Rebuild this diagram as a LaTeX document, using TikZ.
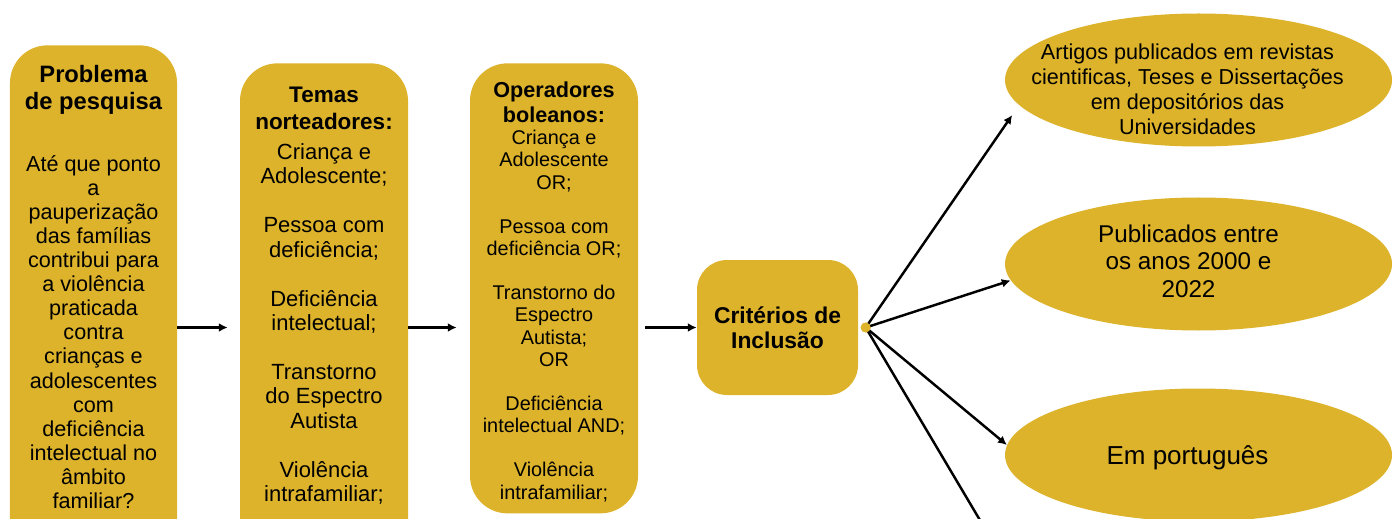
\documentclass[tikz,border=0pt]{standalone}
\usepackage{fontspec}
\setmainfont{Liberation Sans}
\usepackage{tikz}
\usetikzlibrary{arrows.meta, shapes.geometric, positioning, calc}

\definecolor{mustard}{RGB}{221,179,44}

\tikzset{
    pillar/.style={fill=mustard, rounded corners=0.75cm, minimum width=3.36cm, anchor=north},
    oval/.style={ellipse, fill=mustard, minimum width=7.74cm, minimum height=2.66cm, inner sep=0pt},
    joint/.style={circle, fill=mustard, minimum size=0.2cm, inner sep=0pt},
    heading/.style={align=center, font=\bfseries},
    arrowline/.style={-{Latex[length=5pt,width=5pt]}, line width=1.4pt}
}

\begin{document}
\begin{tikzpicture}
                \useasboundingbox (0,0) rectangle (27.84,10.36);

                % columns
                \node[pillar, minimum width=3.34cm, minimum height=11.32cm] (problema) at (1.87,9.46) {};
                \node[pillar, minimum height=10.6cm] (temas) at (6.48,9.10) {};
                \node[pillar, minimum height=9.0cm] (operadores) at (11.08,9.10) {};
                \node[fill=mustard, rounded corners=0.6cm, minimum width=3.22cm, minimum height=2.7cm,
                      heading, font=\bfseries\fontsize{13}{14.2}\selectfont] (crit) at (15.55,3.81) {Critérios de\\Inclusão};

                \node[heading, font=\bfseries\fontsize{13.5}{15.3}\selectfont] (problematitle) at (1.87,8.56) {Problema\\de pesquisa};
                \node[align=center, font=\fontsize{12.3}{13.7}\selectfont] (problemabody) at (1.87,3.72)
                    {Até que ponto\\a\\pauperização\\das famílias\\contribui para\\a violência\\praticada\\contra\\crianças e\\adolescentes\\com\\deficiência\\intelectual no\\âmbito\\familiar?};

                \node[heading, font=\bfseries\fontsize{12.8}{15.3}\selectfont] (temastitle) at (6.48,8.19) {Temas\\norteadores:};
                \node[align=center, font=\fontsize{12.5}{13.9}\selectfont] (temasbody) at (6.48,3.88)
                    {Criança e\\Adolescente;\\[\baselineskip]Pessoa com\\deficiência;\\[\baselineskip]Deficiência\\intelectual;\\[\baselineskip]Transtorno\\do Espectro\\Autista\\[\baselineskip]Violência\\intrafamiliar;};

                \node[heading, font=\bfseries\fontsize{12.3}{14.2}\selectfont] (operadorestitle) at (11.08,8.31) {Operadores\\boleanos:};
                \node[align=center, font=\fontsize{11.3}{12.6}\selectfont] (operadoresbody) at (11.08,4.04)
                    {Criança e\\Adolescente\\OR;\\[\baselineskip]Pessoa com\\deficiência OR;\\[\baselineskip]Transtorno do\\Espectro\\Autista;\\OR\\[\baselineskip]Deficiência\\intelectual AND;\\[\baselineskip]Violência\\intrafamiliar;};

                % criteria
                \node[joint, right=0.04cm of crit] (hub) {};
                \node[oval] (artigos) at (23.97,8.76) {};
                \node[oval] (anos) at (23.97,5.08) {};
                \node[oval] (idioma) at (23.97,1.26) {};
                \node[align=center, font=\fontsize{12.3}{14.2}\selectfont] (artigostext) at (23.75,8.57)
                    {Artigos publicados em revistas\\cientificas, Teses e Dissertações\\em depositórios das\\Universidades};
                \node[align=center, font=\fontsize{13.8}{15.6}\selectfont] (anostext) at (23.77,5.14) {Publicados entre\\os anos 2000 e\\2022};
                \node[font=\fontsize{14.8}{16}\selectfont] (idiomatext) at (23.75,1.20) {Em português};
                \coordinate (offpage) at (19.87,-0.5);

                % arrows
                \draw[arrowline, shorten >=0.24cm] (problema.east |- crit.west) -- (temas.west |- crit.west);
                \draw[arrowline, shorten >=0.26cm] (temas.east |- crit.west) -- (operadores.west |- crit.west);
                \draw[arrowline, shorten <=0.14cm] (operadores.east |- crit.west) -- (crit.west);

                \draw[arrowline, shorten >=0.24cm] (hub.center) -- (artigos.188);
                \draw[arrowline] (hub.center) -- (anos.185);
                \draw[arrowline] (hub.center) -- (idioma.177);
                \draw[line width=1.4pt] (hub.center) -- (offpage);
                \node[joint] at (hub) {};
            \end{tikzpicture}
\end{document}
